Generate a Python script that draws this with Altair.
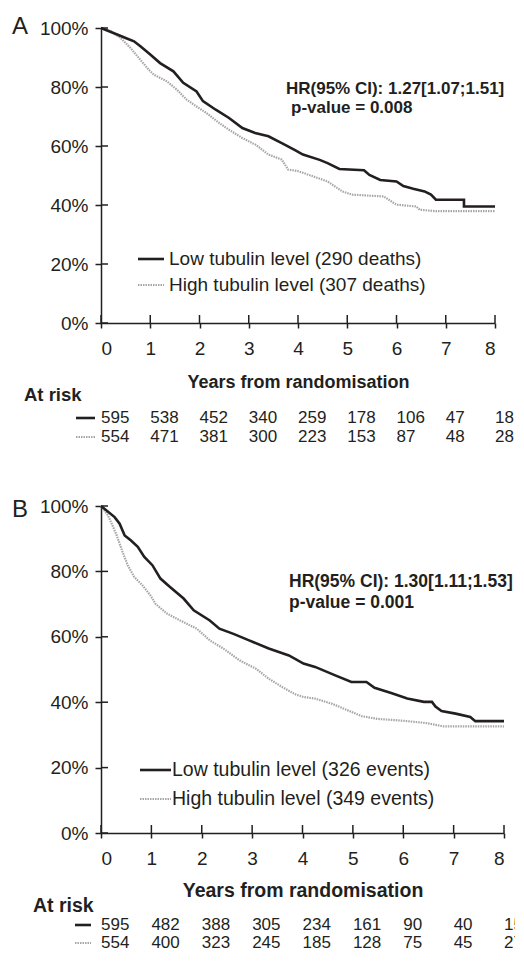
import altair as alt
import pandas as pd

# ---------------- data ----------------
years = [0, 1, 2, 3, 4, 5, 6, 7, 8]
pct_ticks = [0, 20, 40, 60, 80, 100]

# Panel A (overall survival)
a_low_t = [0, 0.34, 0.5, 0.67, 0.8, 1.0, 1.2, 1.47, 1.67, 1.94, 2.07, 2.33, 2.6, 2.87, 3.13, 3.4, 3.67,
           3.93, 4.1, 4.44, 4.6, 4.84, 5.34, 5.45, 5.67, 6.0, 6.14, 6.34, 6.57, 6.7, 6.8, 7.37, 7.37, 8.0]
a_low_s = [100, 97.7, 96.6, 95.5, 93.8, 91.0, 88.1, 85.3, 81.4, 78.5, 75.2, 72.3, 69.5, 66.1, 64.4, 63.3, 61.0,
           58.7, 57.1, 55.3, 54.2, 52.2, 51.8, 50.2, 48.5, 48.0, 46.4, 45.5, 44.6, 43.5, 41.8, 41.8, 39.5, 39.5]
a_high_t = [0, 0.2, 0.4, 0.6, 0.77, 0.94, 1.07, 1.34, 1.54, 1.74, 1.94, 2.14, 2.4, 2.6, 2.87, 3.14, 3.4,
            3.67, 3.8, 4.0, 4.34, 4.6, 4.9, 5.1, 5.74, 6.0, 6.4, 6.47, 6.8, 8.0]
a_high_s = [100, 98.9, 96.6, 93.2, 89.8, 86.4, 84.2, 81.9, 79.1, 75.7, 73.4, 71.2, 67.8, 65.5, 62.7, 60.4, 57.1,
            55.4, 52.0, 51.5, 49.5, 48.0, 44.6, 43.5, 42.9, 40.1, 39.5, 38.4, 37.9, 37.9]
a_risk_low = [595, 538, 452, 340, 259, 178, 106, 47, 18]
a_risk_high = [554, 471, 381, 300, 223, 153, 87, 48, 28]
a_legend = ["Low tubulin level (290 deaths)", "High tubulin level (307 deaths)"]
a_hr = "HR(95% CI): 1.27[1.07;1.51]"
a_p = "p-value = 0.008"

# Panel B (event-free survival)
b_low_t = [0, 0.27, 0.37, 0.47, 0.59, 0.73, 0.86, 1.02, 1.18, 1.37, 1.64, 1.84, 2.16, 2.35, 2.63, 2.94, 3.33,
           3.73, 4.02, 4.25, 4.65, 4.97, 5.27, 5.43, 5.76, 6.08, 6.41, 6.57, 6.64, 6.76, 7.04, 7.33, 7.43, 8.0]
b_low_s = [100, 96.6, 94.6, 91.0, 89.5, 87.5, 84.4, 81.9, 77.8, 75.2, 71.7, 68.1, 65.0, 62.5, 60.9, 58.9, 56.4,
           54.3, 51.8, 50.8, 48.2, 46.2, 46.2, 44.4, 42.8, 41.1, 40.1, 40.1, 38.7, 37.3, 36.5, 35.5, 34.2, 34.2]
b_high_t = [0, 0.14, 0.3, 0.43, 0.53, 0.66, 0.82, 0.98, 1.08, 1.31, 1.57, 1.9, 2.16, 2.43, 2.75, 3.08, 3.33,
            3.6, 3.86, 4.02, 4.25, 4.59, 4.9, 5.18, 5.49, 6.02, 6.47, 6.8, 8.0]
b_high_s = [100, 97.1, 91.5, 85.9, 81.9, 78.3, 75.8, 72.7, 70.1, 67.1, 65.0, 62.5, 58.9, 56.4, 52.8, 50.2, 47.2,
            44.6, 42.4, 41.6, 41.1, 39.5, 37.5, 35.7, 34.9, 34.3, 33.6, 32.6, 32.6]
b_risk_low = [595, 482, 388, 305, 234, 161, 90, 40, 15]
b_risk_high = [554, 400, 323, 245, 185, 128, 75, 45, 27]
b_legend = ["Low tubulin level (326 events)", "High tubulin level (349 events)"]
b_hr = "HR(95% CI): 1.30[1.11;1.53]"
b_p = "p-value = 0.001"

# ---------------- styling ----------------
FONT = "Liberation Sans"
INK = "#231f20"
GREY = "#a6a6a6"


def txt(label, x, y, size, bold=False, align="left"):
    return alt.Chart(pd.DataFrame({"label": [label]})).mark_text(
        align=align, baseline="middle", font=FONT, fontSize=size,
        fontWeight="bold" if bold else "normal", color=INK
    ).encode(x=alt.value(x), y=alt.value(y), text="label:N")


def panel(letter, lt, ls, ht, hs, rl, rh, legend, hr, pv, W, H, lay):
    fs = lay["fs"]
    xs = alt.Scale(domain=[0, 8], nice=False)
    ys = alt.Scale(domain=[0, 100], nice=False)
    xax = alt.Axis(values=years, tickSize=5, labelPadding=lay["lp"], title="Years from randomisation",
                   titlePadding=lay["tp"], format="d", titleFontSize=fs["title"])
    yax = alt.Axis(values=pct_ticks, tickSize=6, labelPadding=7, title=None,
                   labelExpr="datum.value + '%'")

    low = alt.Chart(pd.DataFrame({"t": lt, "s": ls})).mark_line(
        color=INK, strokeWidth=2.6, interpolate="linear"
    ).encode(x=alt.X("t:Q", scale=xs, axis=xax), y=alt.Y("s:Q", scale=ys, axis=yax))
    high = alt.Chart(pd.DataFrame({"t": ht, "s": hs})).mark_line(
        color=GREY, strokeWidth=2.2, strokeDash=[1.5, 1], interpolate="linear"
    ).encode(x=alt.X("t:Q", scale=xs), y=alt.Y("s:Q", scale=ys))

    ytick_in = alt.Chart(pd.DataFrame({"v": pct_ticks})).mark_rule(
        color=INK, strokeWidth=1.5
    ).encode(x=alt.value(0), x2=alt.value(7), y=alt.Y("v:Q", scale=ys))
    xtick_in = alt.Chart(pd.DataFrame({"v": years})).mark_rule(
        color=INK, strokeWidth=1.5
    ).encode(x=alt.X("v:Q", scale=xs), y=alt.value(H), y2=alt.value(H - 8))

    # legend inside plot
    lg = lay["legend"]
    leg_low = alt.Chart(pd.DataFrame({"k": [0]})).mark_rule(color=INK, strokeWidth=2.6).encode(
        x=alt.value(lg[0]), x2=alt.value(lg[1]), y=alt.value(lg[3]))
    leg_high = alt.Chart(pd.DataFrame({"k": [0]})).mark_rule(
        color=GREY, strokeWidth=2.2, strokeDash=[1.5, 1]).encode(
        x=alt.value(lg[0]), x2=alt.value(lg[1]), y=alt.value(lg[4]))
    leg_t1 = txt(legend[0], lg[2], lg[3], fs["legend"])
    leg_t2 = txt(legend[1], lg[2], lg[4], fs["legend"])

    hr_t = txt(hr, lay["hr"][0], lay["hr"][1], fs["hr"], bold=True)
    p_t = txt(pv, lay["p"][0], lay["p"][1], fs["hr"], bold=True)
    letter_t = txt(letter, -89, lay["letter_y"], 24)

    # at-risk table
    r1, r2, ra = lay["risk_y"]
    at_risk = txt("At risk", lay["atrisk_x"], ra, fs["atrisk"], bold=True)
    row_low = alt.Chart(pd.DataFrame({"t": years, "n": rl})).mark_text(
        align="left", baseline="middle", font=FONT, fontSize=fs["risk"], color=INK
    ).encode(x=alt.X("t:Q", scale=xs), y=alt.value(r1), text="n:Q")
    row_high = alt.Chart(pd.DataFrame({"t": years, "n": rh})).mark_text(
        align="left", baseline="middle", font=FONT, fontSize=fs["risk"], color=INK
    ).encode(x=alt.X("t:Q", scale=xs), y=alt.value(r2), text="n:Q")
    gx = lay["glyph"]
    g_low = alt.Chart(pd.DataFrame({"k": [0]})).mark_rule(color=INK, strokeWidth=2.6).encode(
        x=alt.value(gx[0]), x2=alt.value(gx[1]), y=alt.value(r1))
    g_high = alt.Chart(pd.DataFrame({"k": [0]})).mark_rule(
        color=GREY, strokeWidth=2.2, strokeDash=[1.5, 1]).encode(
        x=alt.value(gx[0]), x2=alt.value(gx[1]), y=alt.value(r2))

    return alt.layer(
        high, low, ytick_in, xtick_in, leg_low, leg_high, leg_t1, leg_t2, hr_t, p_t, letter_t,
        at_risk, row_low, row_high, g_low, g_high
    ).properties(width=W, height=H)


HA, HB = 295, 327
WA, WB = 394, 403
lay_a = {
    "legend": [37, 63, 68, 231, 257],
    "hr": [185, 61], "p": [190, 80], "letter_y": -1,
    "risk_y": [HA + 95, HA + 114, HA + 72], "atrisk_x": -77, "glyph": [-25, -6],
    "lp": 11, "tp": 15,
    "fs": {"title": 18, "legend": 19, "hr": 17, "atrisk": 18.5, "risk": 17},
}
lay_b = {
    "legend": [39, 70, 71, 264, 293],
    "hr": [188, 76], "p": [188, 97], "letter_y": 4,
    "risk_y": [HB + 92, HB + 110, HB + 73], "atrisk_x": -68, "glyph": [-26, -10],
    "lp": 11, "tp": 13,
    "fs": {"title": 19.5, "legend": 19.5, "hr": 17.5, "atrisk": 19.5, "risk": 17},
}

pa = panel("A", a_low_t, a_low_s, a_high_t, a_high_s, a_risk_low, a_risk_high,
           a_legend, a_hr, a_p, WA, HA, lay_a)
pb = panel("B", b_low_t, b_low_s, b_high_t, b_high_s, b_risk_low, b_risk_high,
           b_legend, b_hr, b_p, WB, HB, lay_b)

chart = alt.vconcat(pa, pb, spacing=52).properties(
    padding={"left": 4, "top": 7, "right": -8, "bottom": 0},
    background="white",
).configure_view(stroke=None).configure_axis(
    grid=False, domainColor=INK, domainWidth=1.5, tickColor=INK, tickWidth=1.5,
    labelFont=FONT, labelFontSize=19, labelColor=INK,
    titleFont=FONT, titleFontWeight="bold", titleColor=INK,
)

chart.save("out.html", embed_options={"renderer": "svg", "actions": False})
